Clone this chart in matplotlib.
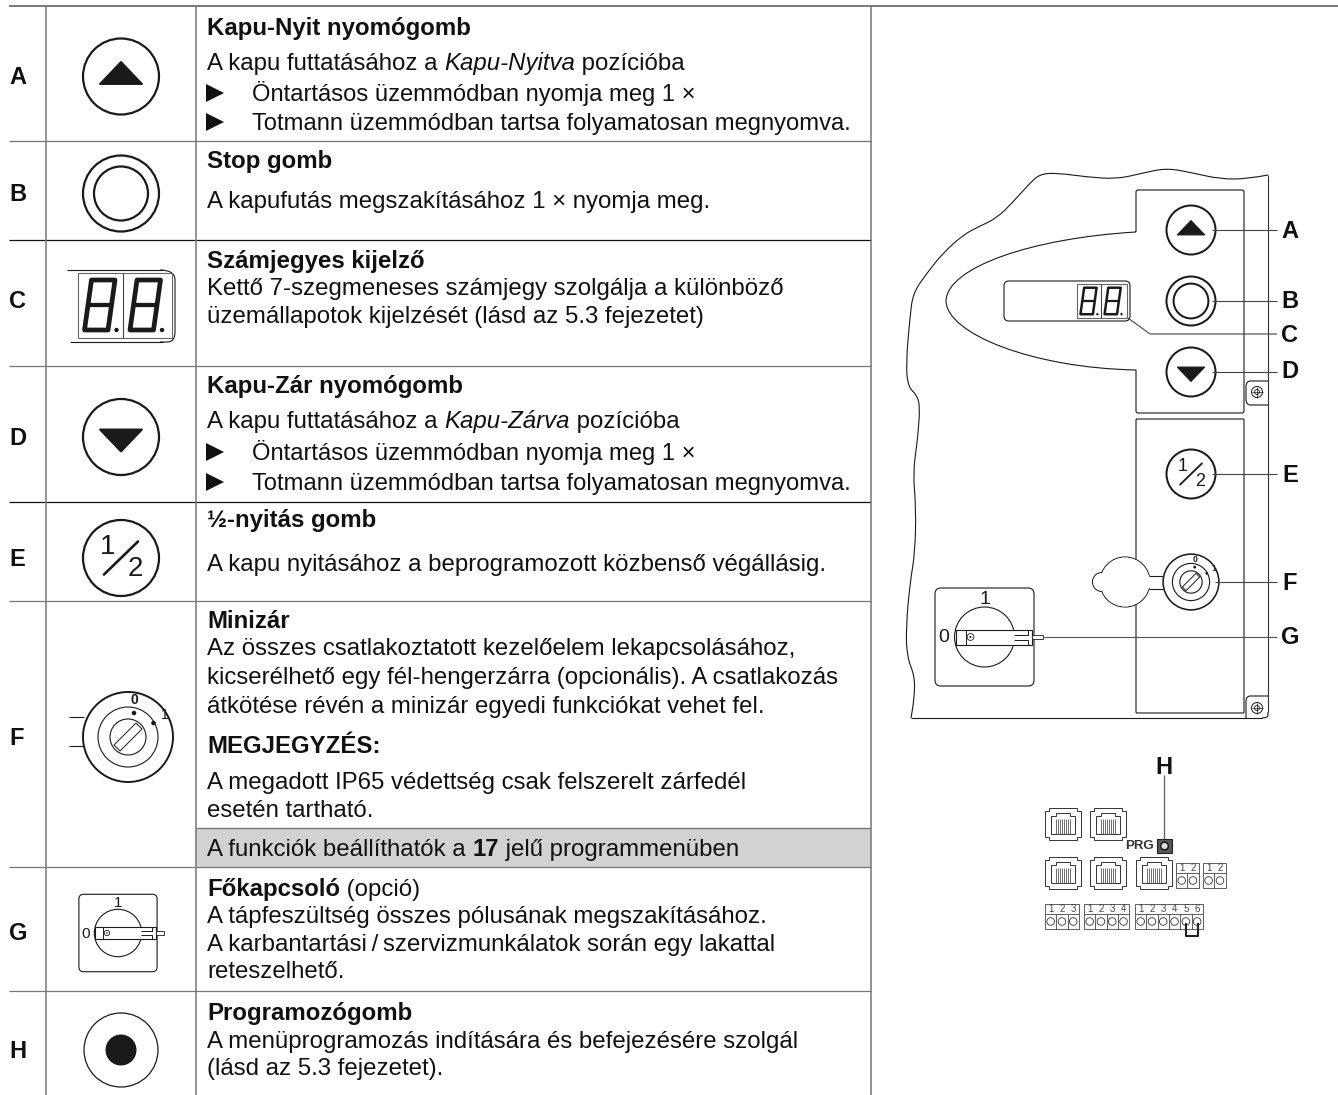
import re
import matplotlib
matplotlib.use('Agg')
import matplotlib.pyplot as plt
from matplotlib.patches import Circle, Rectangle, FancyBboxPatch, PathPatch, Polygon
from matplotlib.path import Path

plt.rcParams['font.family'] = ['Liberation Sans', 'DejaVu Sans']

# table content
row_letters = ['A', 'B', 'C', 'D', 'E', 'F', 'G', 'H']
row_lines = [
    '**Kapu-Nyit nyomógomb**',
    'A kapu futtatásához a *Kapu-Nyitva* pozícióba',
    '> Öntartásos üzemmódban nyomja meg 1 ×',
    '> Totmann üzemmódban tartsa folyamatosan megnyomva.',
    '**Stop gomb**',
    'A kapufutás megszakításához 1 × nyomja meg.',
    '**Számjegyes kijelző**',
    'Kettő 7-szegmeneses számjegy szolgálja a különböző',
    'üzemállapotok kijelzését (lásd az 5.3 fejezetet)',
    '**Kapu-Zár nyomógomb**',
    'A kapu futtatásához a *Kapu-Zárva* pozícióba',
    '> Öntartásos üzemmódban nyomja meg 1 ×',
    '> Totmann üzemmódban tartsa folyamatosan megnyomva.',
    '**½-nyitás gomb**',
    'A kapu nyitásához a beprogramozott közbenső végállásig.',
    '**Minizár**',
    'Az összes csatlakoztatott kezelőelem lekapcsolásához,',
    'kicserélhető egy fél-hengerzárra (opcionális). A csatlakozás',
    'átkötése révén a minizár egyedi funkciókat vehet fel.',
    '**MEGJEGYZÉS:**',
    'A megadott IP65 védettség csak felszerelt zárfedél',
    'esetén tartható.',
    'A funkciók beállíthatók a **17** jelű programmenüben',
    '**Főkapcsoló** (opció)',
    'A tápfeszültség összes pólusának megszakításához.',
    'A karbantartási\u2009/\u2009szervizmunkálatok során egy lakattal',
    'reteszelhető.',
    '**Programozógomb**',
    'A menüprogramozás indítására és befejezésére szolgál',
    '(lásd az 5.3 fejezetet).',
]
panel_letters = ['A', 'B', 'C', 'D', 'E', 'F', 'G']
terminal_counts = [3, 4, 6]

# layout in reference pixels
row_rules = [6, 141, 240, 366, 502, 601, 867, 991]
rule_colors = ['#555555', '#777777', '#111111', '#777777', '#111111', '#777777', '#777777', '#777777']
letter_y = [77.5, 194.5, 301.5, 438.5, 559.5, 738.5, 933.5, 1052]
line_base = [35, 70, 101, 130, 168, 208, 268, 295, 323, 393, 428, 460, 490, 527, 571,
             628, 655, 684, 713, 753, 789, 817, 856, 896, 923, 951, 978, 1020, 1048, 1075]
panel_y = [231, 302, 335, 372, 475, 583, 638]
LEFT, COL1, COL2, RIGHT = 9, 46, 196, 871
INK = '#1a1a1a'
FS = 17.25

fig = plt.figure(figsize=(13.38, 10.95), dpi=100)
ax = fig.add_axes([0, 0, 1, 1])
ax.set_xlim(0, 1338)
ax.set_ylim(1095, 0)
ax.axis('off')


def line(xs, ys, color=INK, lw=0.8, z=3, cap='butt'):
    ax.plot(xs, ys, color=color, lw=lw, zorder=z, solid_capstyle=cap, solid_joinstyle='round')


def circle(cx, cy, r, lw=1.5, fc='white', ec=INK, z=3):
    ax.add_patch(Circle((cx, cy), r, fc=fc, ec=ec, lw=lw, zorder=z))


def smooth(points, color=INK, lw=0.8):
    # quadratic curve through the midpoints of a hand placed outline
    verts = [points[0]]
    codes = [Path.MOVETO]
    for a, b in zip(points[1:-1], points[2:]):
        verts += [a, ((a[0] + b[0]) / 2, (a[1] + b[1]) / 2)]
        codes += [Path.CURVE3, Path.CURVE3]
    verts.append(points[-1])
    codes.append(Path.LINETO)
    ax.add_patch(PathPatch(Path(verts, codes), fc='none', ec=color, lw=lw, zorder=3))


def draw_runs(x, y, s, size=FS):
    renderer = fig.canvas.get_renderer()
    for part in re.split(r'(\*\*.+?\*\*|\*.+?\*)', s):
        if not part:
            continue
        kw = {}
        if part.startswith('**'):
            part = part[2:-2]
            kw['fontweight'] = 'bold'
        elif part.startswith('*'):
            part = part[1:-1]
            kw['fontstyle'] = 'italic'
        t = ax.text(x, y, part, fontsize=size, color='#111111', va='baseline', ha='left', zorder=5, **kw)
        # measure with guards so that edge spaces count
        t.set_text('x' + part + 'x')
        w = t.get_window_extent(renderer).width
        t.set_text('xx')
        w -= t.get_window_extent(renderer).width
        t.set_text(part)
        x += w


def arrow_button(cx, cy, r, up=True):
    s = r / 38.0
    d = -1 if up else 1
    circle(cx, cy, r, lw=1.6 * max(s, 0.9))
    ax.add_patch(Polygon([(cx - 21 * s, cy - d * 7.5 * s), (cx + 21 * s, cy - d * 7.5 * s), (cx, cy + d * 14.5 * s)],
                         closed=True, fc='#1a1a1a', ec='#1a1a1a', lw=1.4 * s, joinstyle='round', zorder=4))


def stop_button(cx, cy, r):
    s = r / 38.0
    circle(cx, cy, r, lw=1.6 * max(s, 0.9))
    circle(cx, cy, 27 * s, lw=1.6 * max(s, 0.9))


def half_button(cx, cy, r):
    s = r / 38.0
    circle(cx, cy, r, lw=1.6 * max(s, 0.9))
    line([cx - 17 * s, cx + 17 * s], [cy + 16.5 * s, cy - 16.5 * s], lw=1.6 * s + 0.3, cap='round', z=4)
    ax.text(cx - 13.5 * s, cy - 11.5 * s, '1', fontsize=20 * s, ha='center', va='center', color=INK, zorder=5)
    ax.text(cx + 14 * s, cy + 11 * s, '2', fontsize=20 * s, ha='center', va='center', color=INK, zorder=5)


def seven_seg(ox, oy, w, h, skew, lw):
    # ox, oy is the lower left corner of the stroke centres
    def p(u, v):
        return ox + u * w + skew * v, oy - v * h
    loop = [p(u, v) for u, v in [(0, 0), (1, 0), (1, 1), (0, 1), (0, 0)]]
    ax.add_patch(Polygon(loop, closed=True, fc='none', ec='#1a1a1a', lw=lw, joinstyle='round', zorder=4))
    a, b = p(0, 0.5), p(1, 0.5)
    line([a[0], b[0]], [a[1], b[1]], color='#1a1a1a', lw=lw * 0.9, z=4)


def display(x0, y0, s):
    # two digits inside a thin frame, x0 y0 is the frame corner
    ax.add_patch(Rectangle((x0, y0), 94 * s, 65 * s, fc='white', ec='#666666', lw=0.8, zorder=3))
    line([x0 + 45 * s, x0 + 45 * s], [y0, y0 + 65 * s], color='#444444', lw=0.8)
    for i in range(2):
        dx = 45.5 * s * i
        seven_seg(x0 + 6.5 * s + dx, y0 + 57 * s, 23.5 * s, 50 * s, 7 * s, 3.4 * s)
        circle(x0 + 38.5 * s + dx, y0 + 57 * s, 2.2 * s, lw=0, fc='#1a1a1a', z=4)


def key_lock(cx, cy, s):
    circle(cx, cy, 45 * s, lw=1.4 * max(s, 0.8))
    circle(cx, cy, 30 * s, lw=0.8)
    circle(cx, cy, 18 * s, lw=0.8)
    ax.add_patch(Polygon([(cx - 14 * s, cy + 8 * s), (cx + 8 * s, cy - 14 * s), (cx + 14 * s, cy - 8 * s), (cx - 8 * s, cy + 14 * s)],
                         closed=True, fc='white', ec=INK, lw=0.7, zorder=4))
    circle(cx + 6 * s, cy - 24 * s, 2.3 * s, lw=0, fc=INK, z=4)
    circle(cx + 25.5 * s, cy - 14 * s, 2.3 * s, lw=0, fc=INK, z=4)
    ax.text(cx + 6 * s, cy - 37 * s, '0', fontsize=10 * s, fontweight='bold', ha='center', va='center', color=INK, zorder=5)
    ax.text(cx + 37 * s, cy - 22 * s, '1', fontsize=10 * s, ha='center', va='center', color=INK, zorder=5)


def main_switch(cx, cy, s):
    ax.add_patch(FancyBboxPatch((cx - 49.5 * s + 6 * s, cy - 49 * s + 6 * s), 87 * s, 86 * s,
                                boxstyle='round,pad=%f' % (6 * s), fc='white', ec=INK, lw=0.8, zorder=2))
    circle(cx, cy, 30 * s, lw=0.8)
    ax.add_patch(Rectangle((cx - 29 * s, cy - 7.5 * s), 76.5 * s, 15 * s, fc='white', ec=INK, lw=0.8, zorder=4))
    line([cx - 19 * s, cx - 19 * s], [cy - 7.5 * s, cy + 7.5 * s], lw=0.7, z=5)
    # notch at the end of the handle
    ax.add_patch(Rectangle((cx + 29 * s, cy - 2.5 * s), 14 * s, 5 * s, fc='white', ec='none', zorder=5))
    line([cx + 29 * s, cx + 43 * s, cx + 43 * s], [cy - 2.5 * s, cy - 2.5 * s, cy - 7.5 * s], lw=0.7, z=5)
    line([cx + 29 * s, cx + 43 * s, cx + 43 * s], [cy + 2.5 * s, cy + 2.5 * s, cy + 7.5 * s], lw=0.7, z=5)
    ax.add_patch(Rectangle((cx + 47.5 * s, cy - 2.3 * s), 11 * s, 4.6 * s, fc='white', ec=INK, lw=0.6, zorder=4))
    circle(cx - 14 * s, cy, 3.4 * s, lw=0.6, z=5)
    circle(cx - 14 * s, cy, 1 * s, lw=0, fc=INK, z=6)
    ax.text(cx, cy - 38 * s, '1', fontsize=14 * s, ha='center', va='center', color=INK, zorder=5)
    ax.text(cx - 41 * s, cy + 1 * s, '0', fontsize=14 * s, ha='center', va='center', color=INK, zorder=5)


def jack(cx, cy):
    outer = [(-14, -16), (14, -16), (14, -13), (18, -13), (18, 13), (14, 13), (14, 16), (-14, 16), (-14, 13), (-18, 13), (-18, -13), (-14, -13)]
    ax.add_patch(Polygon([(cx + a, cy + b) for a, b in outer], closed=True, fc='white', ec='#333333', lw=0.7, zorder=3))
    inner = [(-7, -11), (7, -11), (7, -8), (12, -8), (12, 10), (-12, 10), (-12, -8), (-7, -8)]
    ax.add_patch(Polygon([(cx + a, cy + b) for a, b in inner], closed=True, fc='white', ec='#333333', lw=0.7, zorder=3))
    for i in range(8):
        dx = -7 + i * 2
        line([cx + dx, cx + dx], [cy - 5, cy + 10], color='#555555', lw=0.6, z=4)


def terminal(x0, y0, n):
    cell = 11.3
    ax.add_patch(Rectangle((x0, y0), cell * n, 25, fc='white', ec='#444444', lw=0.6, zorder=3))
    line([x0, x0 + cell * n], [y0 + 10, y0 + 10], color='#444444', lw=0.6)
    for i in range(n):
        cx = x0 + cell * (i + 0.5)
        if i:
            line([x0 + cell * i, x0 + cell * i], [y0 + 10, y0 + 25], color='#444444', lw=0.6)
        circle(cx, y0 + 17.5, 3.8, lw=0.6, ec='#333333')
        ax.text(cx, y0 + 5, str(i + 1), fontsize=7, color='#444444', ha='center', va='center', zorder=5)


# table frame
ax.add_patch(Rectangle((COL2, 828), RIGHT - COL2, 39, fc='#d2d2d2', ec='none', zorder=1))
line([COL2, RIGHT], [828, 828], color='#777777', lw=1.0)
for i, y in enumerate(row_rules):
    line([LEFT, 1338 if i == 0 else RIGHT], [y, y], color=rule_colors[i], lw=1.1 if i == 0 else 0.9)
for x in [COL1, COL2, RIGHT]:
    line([x, x], [6, 1095], color='#777777', lw=1.1)

for letter, y in zip(row_letters, letter_y):
    ax.text(9, y, letter, fontsize=17, fontweight='bold', color='#111111', ha='left', va='center', zorder=5)

for s, y in zip(row_lines, line_base):
    if s.startswith('> '):
        ax.plot([215], [y - 8], marker='>', ms=12.5, color='#111111', mew=0, zorder=5)
        draw_runs(252, y, s[2:], size=17.1)
    else:
        draw_runs(207, y, s)

# table symbols
cx = 121
arrow_button(cx, 76.5, 38, True)
stop_button(cx, 193.5, 38)
line([67, 163], [270, 270], lw=0.8)
line([70, 163], [342, 342], lw=0.8)
smooth([(160, 270), (175, 270), (175, 290), (175, 322), (175, 342), (160, 342)])
display(78, 273, 1.0)
arrow_button(cx, 437, 38, False)
half_button(cx, 558, 38)
line([69, 84], [717, 717], lw=0.8)
line([69, 84], [746, 746], lw=0.8)
key_lock(128, 737, 1.0)
main_switch(118, 933, 0.79)
circle(cx, 1050, 37, lw=0.9)
circle(cx, 1050, 15.5, lw=0, fc='#1a1a1a')

# controller housing outline
top_edge = [(1268, 175), (1247, 179), (1220, 179), (1193, 173), (1167, 168), (1143, 173), (1117, 179), (1087, 177),
            (1057, 173), (1040, 174), (1030, 183), (1013, 202), (997, 218), (978, 227), (963, 235), (943, 253),
            (927, 273), (913, 293), (910, 317), (906, 363), (908, 387), (917, 395), (920, 407), (918, 433),
            (917, 443), (913, 473), (916, 507), (915, 553), (910, 583), (906, 627), (907, 657), (915, 677),
            (914, 700), (911, 718)]
smooth(top_edge)
line([911, 1262], [718, 718])
smooth([(1262, 718), (1268, 718), (1268, 712)])
line([1268, 1268], [175, 712], color='#333333')

# upper button field with the oval for the display
field = Path([(1136, 232), (1136, 192), (1136, 190), (1138, 190), (1242, 190), (1244, 190), (1244, 192), (1244, 411), (1244, 413), (1242, 413),
              (1138, 413), (1136, 413), (1136, 411), (1136, 370), (1033, 368), (947, 334), (946, 301), (947, 267), (1033, 238), (1136, 232)],
             [Path.MOVETO, Path.LINETO, Path.CURVE3, Path.CURVE3, Path.LINETO, Path.CURVE3, Path.CURVE3, Path.LINETO, Path.CURVE3, Path.CURVE3,
              Path.LINETO, Path.CURVE3, Path.CURVE3, Path.LINETO, Path.CURVE4, Path.CURVE4, Path.CURVE4, Path.CURVE4, Path.CURVE4, Path.CURVE4])
ax.add_patch(PathPatch(field, fc='none', ec=INK, lw=0.8, zorder=3))
ax.add_patch(FancyBboxPatch((1137, 420), 106, 292, boxstyle='round,pad=1', fc='none', ec=INK, lw=0.8, zorder=2))

ax.add_patch(FancyBboxPatch((1009, 286), 116, 30, boxstyle='round,pad=5', fc='white', ec=INK, lw=0.8, zorder=3))
display(1077, 284, 0.53)

# leaders and letters
for letter, y in zip(panel_letters, panel_y):
    ax.text(1290, y, letter, fontsize=17, fontweight='bold', color='#111111', ha='center', va='center', zorder=5)
line([1212, 1277], [230, 230], color='#444444', lw=0.8, z=5)
line([1212, 1277], [301, 301], color='#444444', lw=0.8, z=5)
line([1128, 1150, 1277], [318, 334, 334], color='#444444', lw=0.8, z=5)
line([1212, 1277], [372, 372], color='#444444', lw=0.8, z=5)
line([1212, 1277], [474, 474], color='#444444', lw=0.8, z=5)
line([1215, 1277], [582, 582], color='#444444', lw=0.8, z=5)
line([1043, 1277], [637, 637], color='#555555', lw=0.8, z=5)

arrow_button(1191, 230, 24.5, True)
stop_button(1191, 301, 24.5)
arrow_button(1191, 372, 24.5, False)
half_button(1191, 474, 24.5)

# lock cap in the lower field
circle(1102, 582, 9.5, lw=0.8, z=3)
circle(1125, 582, 25, lw=0.8, z=3)
circle(1102, 582, 8.9, lw=0, z=3)
circle(1125, 582, 24.5, lw=0, z=3)
ax.add_patch(Rectangle((1146, 576), 8, 12, fc='white', ec='none', zorder=3))
line([1149, 1163], [576, 576])
line([1149, 1163], [589, 589])
key_lock(1191, 582, 0.62)
main_switch(984.5, 637, 1.0)

# screws on the right edge
smooth([(1268, 381), (1255, 381), (1246, 381), (1246, 393), (1246, 405), (1255, 405), (1268, 405)])
smooth([(1268, 696), (1255, 696), (1246, 696), (1246, 707), (1246, 718)])
for y in [392, 708]:
    circle(1257, y, 5.5, lw=0.7)
    circle(1257, y, 2.5, lw=0.6)
    line([1251.5, 1262.5], [y, y], lw=0.5, z=4)
    line([1257, 1257], [y - 5.5, y + 5.5], lw=0.5, z=4)

# connector board
ax.text(1164, 767, 'H', fontsize=17, fontweight='bold', color='#111111', ha='center', va='center', zorder=5)
line([1164, 1164], [775, 840], color='#666666', lw=1.0)
ax.add_patch(Rectangle((1157, 839), 15, 14, fc='#555555', ec='#222222', lw=0.8, zorder=3))
circle(1164.5, 846, 3.8, lw=1.0, ec='#111111', fc='#dddddd', z=4)
ax.text(1154, 846, 'PRG', fontsize=9.5, fontweight='bold', color='#333333', ha='right', va='center', zorder=5)
for jx, jy in [(1063, 824), (1108, 824), (1063, 873), (1108, 873), (1154, 873)]:
    jack(jx, jy)
terminal(1176, 863, 2)
terminal(1203, 863, 2)
for x0, n in zip([1045, 1084, 1135], terminal_counts):
    terminal(x0, 904, n)
line([1186, 1186, 1198, 1198], [923, 936, 936, 923], color='#222222', lw=1.5, z=5)

fig.savefig('out.png', dpi=100)
